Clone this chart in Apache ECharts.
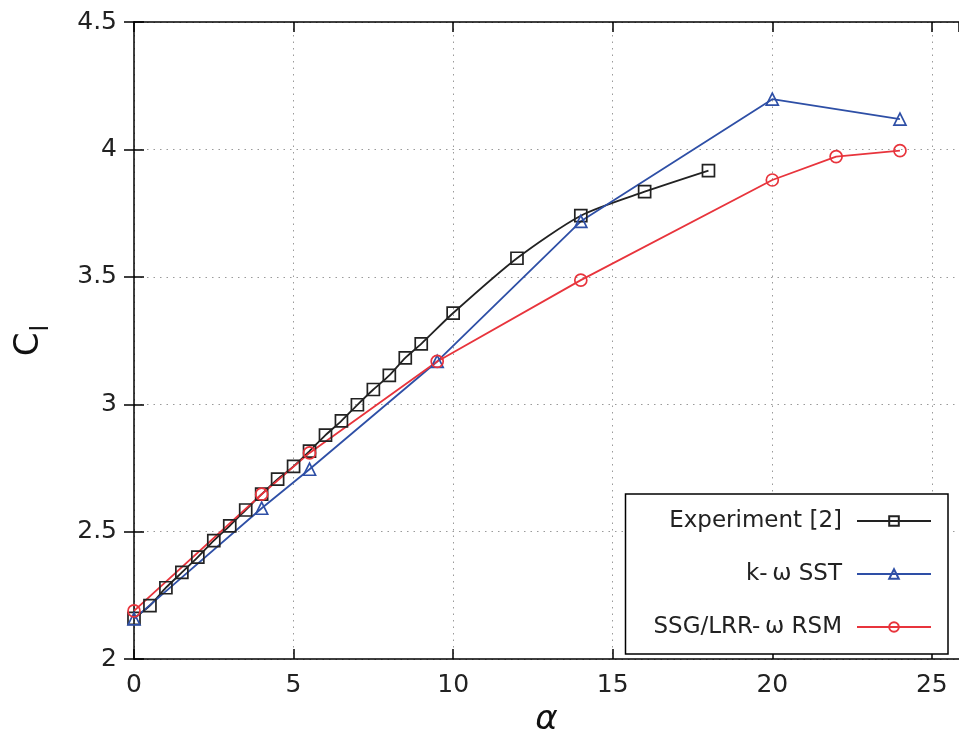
<!DOCTYPE html>
<html>
<head>
<meta charset="utf-8">
<script src="https://cdn.jsdelivr.net/npm/echarts@6/dist/echarts.min.js"></script>
<style>html,body{margin:0;padding:0;background:#fff}#c{width:959px;height:742px}</style>
</head>
<body>
<div id="c"></div>
<script>
// Experiment [2]
const expAlpha = [0, 0.5, 1, 1.5, 2, 2.5, 3, 3.5, 4, 4.5, 5, 5.5, 6, 6.5, 7, 7.5, 8, 8.5, 9, 10, 12, 14, 16, 18];
const expCl    = [2.16, 2.21, 2.28, 2.34, 2.40, 2.465, 2.523, 2.585, 2.647, 2.706, 2.756, 2.816, 2.879, 2.935, 2.998, 3.058, 3.113, 3.182, 3.237, 3.358, 3.573, 3.740, 3.834, 3.917];
// k-omega SST
const sstAlpha = [0, 4, 5.5, 9.5, 14, 20, 24];
const sstCl    = [2.158, 2.592, 2.745, 3.168, 3.718, 4.197, 4.119];
// SSG/LRR-omega RSM
const rsmAlpha = [0, 4, 5.5, 9.5, 14, 20, 22, 24];
const rsmCl    = [2.189, 2.647, 2.809, 3.168, 3.487, 3.880, 3.972, 3.995];

const names = ['Experiment [2]', 'k-\u2009\u03c9 SST', 'SSG/LRR-\u2009\u03c9 RSM'];
const xTicks = [0, 5, 10, 15, 20, 25];
const yTicks = [2, 2.5, 3, 3.5, 4, 4.5];

function zip(a, b) { return a.map((v, i) => [v, b[i]]); }

const FONT = 'DejaVu Sans';
const chart = echarts.init(document.getElementById('c'), null, {renderer: 'canvas'});
const grid = {left: 134, top: 22, width: 825, height: 644};
const XMAX = 25.85;
const split = {show: true, lineStyle: {color: '#9a9a9a', type: [1.5, 5], width: 1}};
const axisLine = {show: true, lineStyle: {color: '#000', width: 1.5}};
const tick = {show: true, inside: true, length: 10, lineStyle: {color: '#000', width: 1.5}};

function mkSeries(name, data, color, symbol, size, smooth) {
  return {
    name, type: 'line', data, smooth: smooth || false,
    symbol, symbolSize: size,
    lineStyle: {color, width: 1.8},
    itemStyle: {color: 'rgba(255,255,255,0)', borderColor: color, borderWidth: 1.7},
    emphasis: {disabled: true},
    z: 3
  };
}

chart.setOption({
  animation: false,
  backgroundColor: '#fff',
  grid,
  xAxis: [{
    type: 'value', min: 0, max: XMAX, interval: 5, position: 'bottom',
    axisLine, axisTick: tick, splitLine: split,
    axisLabel: {color: '#222', fontSize: 25, fontFamily: FONT, margin: 14,
      showMaxLabel: false,
      formatter: v => xTicks.includes(v) ? String(v) : ''},
    name: '\u03b1', nameLocation: 'middle', nameGap: 30,
    nameTextStyle: {fontSize: 34, fontStyle: 'italic', fontFamily: FONT, color: '#111'}
  }, {
    type: 'value', min: 0, max: XMAX, interval: 5, position: 'top',
    axisLine, axisTick: tick, splitLine: {show: false}, axisLabel: {show: false}
  }],
  yAxis: [{
    type: 'value', min: 2, max: 4.5, interval: 0.5, position: 'left',
    axisLine, axisTick: tick, splitLine: split,
    axisLabel: {color: '#222', fontSize: 25, fontFamily: FONT, margin: 17,
      formatter: v => yTicks.includes(v) ? String(v) : ''},
    name: '{c|C}{s|l}', nameLocation: 'middle', nameGap: 88, nameRotate: 90,
    nameTextStyle: {
      color: '#111', fontFamily: FONT,
      rich: {
        c: {fontSize: 34, fontFamily: FONT, color: '#111', lineHeight: 40, verticalAlign: 'bottom'},
        s: {fontSize: 24, fontFamily: FONT, color: '#111', lineHeight: 26, verticalAlign: 'bottom', padding: [0, 0, -8, 1]}
      }
    }
  }, {
    type: 'value', min: 2, max: 4.5, interval: 0.5, position: 'right',
    axisLine: {show: false}, axisTick: tick, splitLine: {show: false}, axisLabel: {show: false}
  }],
  legend: {
    orient: 'vertical', right: 11, top: 494, align: 'right',
    itemWidth: 74, itemHeight: 12, itemGap: 27,
    padding: [14, 16, 14, 28],
    borderColor: '#000', borderWidth: 1.5, backgroundColor: '#fff',
    textStyle: {fontSize: 23, fontFamily: FONT, color: '#222', lineHeight: 26, padding: [0, 10, 0, 0]},
    data: names,
    z: 10
  },
  series: [
    mkSeries(names[0], zip(expAlpha, expCl), '#222222', 'rect', 12, 0.25),
    mkSeries(names[1], zip(sstAlpha, sstCl), '#2e4fa6', 'triangle', 12),
    mkSeries(names[2], zip(rsmAlpha, rsmCl), '#e8343c', 'circle', 12)
  ]
});
</script>
</body>
</html>
